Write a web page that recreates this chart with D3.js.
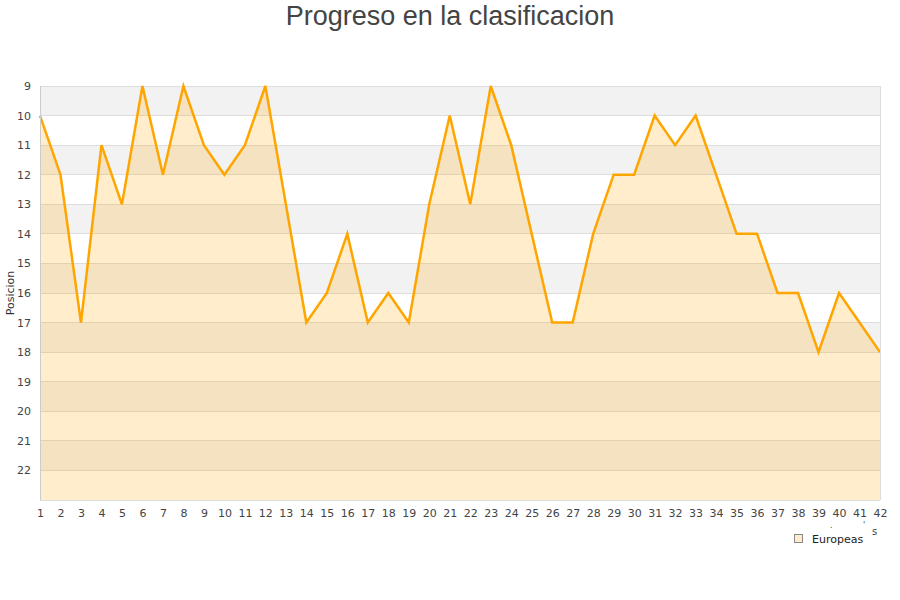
<!DOCTYPE html>
<html><head><meta charset="utf-8">
<script src="https://cdn.jsdelivr.net/npm/d3@7"></script>
<style>body{margin:0;background:#fff}svg{display:block}</style>
</head><body>
<svg id="c" width="900" height="600"></svg>
<script>
const title = "Progreso en la clasificacion";
const yTitle = "Posicion";
const seriesName = "Europeas";
const jornadas = d3.range(1, 43);
const posiciones = [10,12,17,11,13,9,12,9,11,12,11,9,13,17,16,14,17,16,17,13,10,13,9,11,14,17,17,14,12,12,10,11,10,12,14,14,16,16,18,16,17,18];
const yTicks = d3.range(9, 23);

const svg = d3.select("#c");
const L = 40, R = 880, T = 86, B = 500;
const x = d3.scaleLinear().domain([1, 42]).range([L, R]);
const y = d3.scaleLinear().domain([9, 23]).range([T, B]);

// bands
const bands = d3.range(9, 23);
svg.append("g").selectAll("rect").data(bands).join("rect")
  .attr("x", L).attr("width", R - L)
  .attr("y", d => y(d)).attr("height", d => y(d + 1) - y(d))
  .attr("fill", d => (d % 2 === 1) ? "#f2f2f2" : "#ffffff");
// grid
svg.append("g").selectAll("line").data(d3.range(9, 24)).join("line")
  .attr("x1", L).attr("x2", R)
  .attr("y1", d => y(d)).attr("y2", d => y(d))
  .attr("stroke", "#dddddd").attr("stroke-width", 1).attr("shape-rendering", "crispEdges");

const data = jornadas.map((j, i) => ({j, p: posiciones[i]}));
const area = d3.area().x(d => x(d.j)).y0(y(23)).y1(d => y(d.p));
svg.append("path").datum(data).attr("d", area)
  .attr("fill", "rgba(255,165,0,0.2)");
const line = d3.line().x(d => x(d.j)).y(d => y(d.p));
svg.append("path").datum(data).attr("d", line)
  .attr("fill", "none").attr("stroke", "#ffa500").attr("stroke-width", 2.5)
  .attr("stroke-linejoin", "miter");

// frame
svg.append("line").attr("x1", L).attr("x2", L).attr("y1", T).attr("y2", B)
  .attr("stroke", "#cccccc").attr("shape-rendering", "crispEdges");
svg.append("line").attr("x1", R).attr("x2", R).attr("y1", T).attr("y2", B)
  .attr("stroke", "#dddddd").attr("shape-rendering", "crispEdges");
svg.append("line").attr("x1", L).attr("x2", R).attr("y1", B).attr("y2", B)
  .attr("stroke", "#dddddd").attr("shape-rendering", "crispEdges");

// y axis labels
const yAxis = d3.axisLeft(y).tickValues(yTicks).tickSize(0).tickPadding(9).tickFormat(d3.format("d"));
const gy = svg.append("g").attr("transform", `translate(${L},0)`).call(yAxis);
gy.select(".domain").remove();
gy.selectAll("text").attr("font-family", "DejaVu Sans").attr("font-size", 11).attr("fill", "#444").attr("dy", "0.32em");

// x axis labels
const xAxis = d3.axisBottom(x).tickValues(jornadas).tickSize(0).tickPadding(9).tickFormat(d3.format("d"));
const gx = svg.append("g").attr("transform", `translate(0,${B})`).call(xAxis);
gx.select(".domain").remove();
gx.selectAll("text").attr("font-family", "DejaVu Sans").attr("font-size", 11).attr("fill", "#444");

// titles
svg.append("text").attr("x", 450).attr("y", 25).attr("text-anchor", "middle")
  .attr("font-family", "Liberation Sans, Arial, sans-serif").attr("font-size", 27).attr("fill", "#444")
  .text(title);
svg.append("text").attr("transform", "translate(14,293) rotate(-90)").attr("text-anchor", "middle")
  .attr("font-family", "DejaVu Sans").attr("font-size", 11).attr("fill", "#333").text(yTitle);

// partially hidden x title remnants
svg.append("text").attr("x", 872).attr("y", 535).attr("font-family", "DejaVu Sans").attr("font-size", 10).attr("fill", "#444").text("s");
svg.append("text").attr("x", 830).attr("y", 528).attr("font-family", "DejaVu Sans").attr("font-size", 8).attr("fill", "#444").text(".");
svg.append("text").attr("x", 863).attr("y", 528).attr("font-family", "DejaVu Sans").attr("font-size", 8).attr("fill", "#444").text("'");

// legend
const lg = svg.append("g").attr("transform", "translate(794,534)");
lg.append("rect").attr("x", 0.5).attr("y", 0.5).attr("width", 8).attr("height", 8)
  .attr("fill", "#ffeccc").attr("stroke", "#888").attr("stroke-width", 1);
lg.append("text").attr("x", 18).attr("y", 8.5).attr("font-family", "DejaVu Sans").attr("font-size", 11).attr("fill", "#222").text(seriesName);
</script>
</body></html>
